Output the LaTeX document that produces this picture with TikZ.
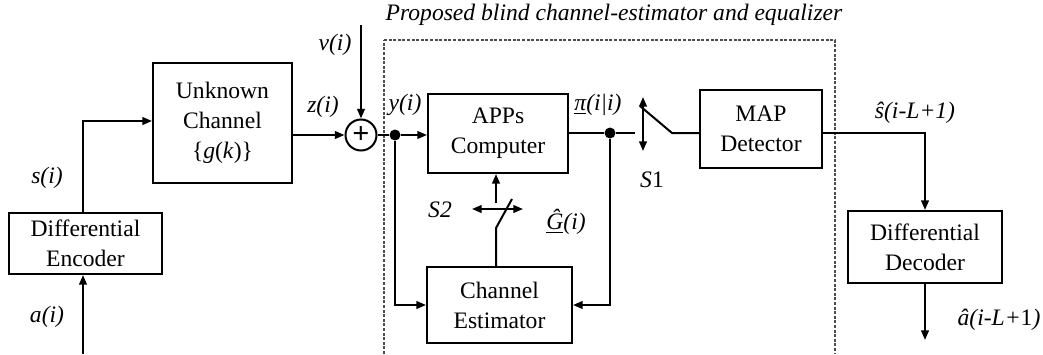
\documentclass[tikz,border=0pt]{standalone}
\usepackage{fontspec}
\setmainfont{Liberation Serif}
\usetikzlibrary{arrows.meta}
\begin{document}
\begin{tikzpicture}[x=0.5pt,y=-0.5pt,
  font=\fontsize{11.8}{15}\selectfont,
  blk/.style={draw,line width=1pt,inner sep=0pt,align=center},
  wire/.style={line width=1pt},
  tip/.tip={Triangle[length=4.8pt,width=3.8pt]},
  arr/.style={wire,-tip},
  darr/.style={wire,tip-tip},
  lbl/.style={font=\fontsize{11.8}{13}\selectfont\itshape,inner sep=0pt},
  frame/.style={draw=gray!60!black,line width=0.6pt,dash pattern=on 1.5pt off 0.8pt},
  dot/.style={circle,fill,inner sep=0pt,minimum size=5.5pt}]

\useasboundingbox (0,0) rectangle (1043,354);

% dashed frame around the estimator / equalizer (open at the bottom)
\draw[frame] (384,40) -- (835,40) -- (835,354);
\draw[frame] (384,354) -- (384,40);
\node[lbl] (title) at (614,15) {Proposed blind channel-estimator and equalizer};

% blocks
\node[blk,minimum width=76.5pt,minimum height=30.5pt] (enc) at (85.5,243.5) {Differential\\Encoder};
\node[blk,minimum width=69.5pt,minimum height=60pt] (chan) at (222.5,123) {Unknown\\Channel\\\{\textit{g}(\textit{k})\}};
\node[circle,draw,line width=1pt,inner sep=0pt,minimum size=15.5pt,font=\fontsize{15}{15}\selectfont\bfseries] (sum) at (361,135) {+};
\node[blk,minimum width=70pt,minimum height=39.5pt] (apps) at (498,133.5) {APPs\\Computer};
\node[blk,minimum width=72.5pt,minimum height=38pt] (est) at (499.5,305) {Channel\\Estimator};
\node[blk,minimum width=61pt,minimum height=39pt] (map) at (761,129) {MAP\\Detector};
\node[blk,minimum width=77pt,minimum height=36pt] (dec) at (925,247) {Differential\\Decoder};

% junctions and free ends
\node[dot] (dy) at (395,135) {};
\node[dot] (dp) at (610,133) {};
\coordinate (ain) at (83,354);
\coordinate (sx) at (83,121);
\coordinate (vin) at (361,25);
\coordinate (aout) at (925,340);
% switch S1
\coordinate (s1in) at (635,133);
\coordinate (s1a) at (640,106);
\coordinate (s1b) at (672,133);
\coordinate (s1t) at (643,97);
\coordinate (s1d) at (643,151);
% switch S2
\coordinate (s2a) at (496,228);
\coordinate (s2b) at (512,199);
\coordinate (s2c) at (496,203);
\coordinate (s2l) at (472,209);
\coordinate (s2r) at (523,209);

% transmitter side
\draw[arr] (ain) -- (enc.south -| ain);
\draw[arr] (enc.north -| sx) |- (chan.west |- sx);
\draw[arr] (chan.east |- sum) -- (sum.west);
\draw[arr] (vin) -- (sum.north);
\draw[wire] (sum.east) -- (dy);

% estimator / equalizer
\draw[arr] (dy) -- (apps.west |- dy);
\draw[arr] (dy) |- (est.west);
\draw[wire] (apps.east |- dp) -- (dp);
\draw[arr] (dp) |- (est.east);
\draw[wire] (dp) -- (s1in);
\draw[wire] (s1a) -- (s1b) -- (map.west |- s1b);
\draw[darr] (s1t) -- (s1d);
\draw[wire] (est.north -| s2a) -- (s2a) -- (s2b);
\draw[arr] (s2c) -- (apps.south -| s2c);
\draw[darr] (s2l) -- (s2r);

% receiver output
\draw[arr] (map.east |- dp) -| (dec.north);
\draw[arr] (dec.south) -- (aout);

% signal labels
\node[lbl] (ls) at (47,178) {s(i)};
\node[lbl] (la) at (47,317) {a(i)};
\node[lbl] (lv) at (335,45) {v(i)};
\node[lbl] (lz) at (323,107) {z(i)};
\node[lbl] (ly) at (405,105) {y(i)};
\node[lbl] (lpi) at (598,105) {\underline{π}(i|i)};
\node[lbl] (ls1) at (652,180) {S\textup{1}};
\node[lbl] (ls2) at (440,210) {S2};
\node[lbl] (lg) at (566,222) {\underline{\^{G}}(i)};
\node[lbl] (lsh) at (915,113) {\^{s}(i-L+1)};
\node[lbl] (lah) at (999,320) {\^{a}(i-L+\textup{1})};
\end{tikzpicture}
\end{document}
